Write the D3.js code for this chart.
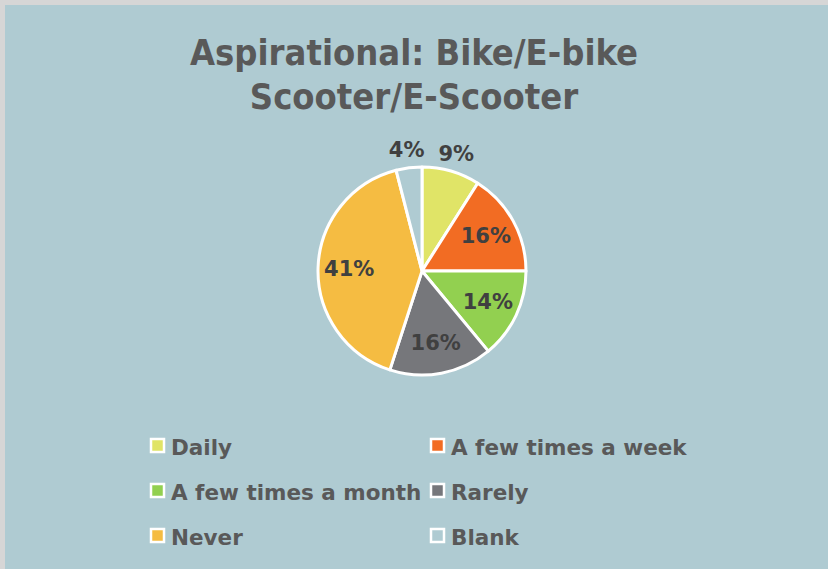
<!DOCTYPE html>
<html>
<head>
<meta charset="utf-8">
<script src="https://cdn.jsdelivr.net/npm/d3@7"></script>
<style>
  html, body { margin: 0; padding: 0; background: #d6d6d6; }
  svg { display: block; }
  text { font-family: "DejaVu Sans", "Liberation Sans", sans-serif; font-weight: bold; }
</style>
</head>
<body>
<div id="chart"></div>
<script>
// data
const categories = ["Daily", "A few times a week", "A few times a month", "Rarely", "Never", "Blank"];
const values = [9, 16, 14, 16, 41, 4];
const colors = ["#e0e467", "#f26c23", "#92d050", "#76777b", "#f5bc42", "#afcbd2"];
const titleLines = ["Aspirational: Bike/E-bike", "Scooter/E-Scooter"];

const width = 828, height = 569;

const svg = d3.select("#chart").append("svg")
  .attr("width", width)
  .attr("height", height);

// panel background (light grey edge at top / left)
svg.append("rect")
  .attr("x", 5).attr("y", 5)
  .attr("width", width - 5).attr("height", height - 5)
  .attr("fill", "#afcbd2");

// title
svg.append("g").selectAll("text")
  .data(titleLines)
  .join("text")
  .attr("x", 414)
  .attr("y", (d, i) => 65 + i * 44)
  .attr("text-anchor", "middle")
  .attr("fill", "#595959")
  .style("font-family", "'DejaVu Sans Condensed', 'Liberation Sans Narrow', sans-serif")
  .style("font-size", "36px")
  .text(d => d);

// pie
const cx = 422, cy = 271, radius = 104;
const pie = d3.pie().sort(null).value(d => d.value);
const arc = d3.arc().innerRadius(0).outerRadius(radius);
const data = categories.map((c, i) => ({ name: c, value: values[i], color: colors[i] }));
const arcs = pie(data);

const g = svg.append("g").attr("transform", `translate(${cx},${cy})`);

g.selectAll("path")
  .data(arcs)
  .join("path")
  .attr("d", arc)
  .attr("fill", d => d.data.color)
  .attr("stroke", "#ffffff")
  .attr("stroke-width", 3)
  .attr("stroke-linejoin", "round");

// labels: small slices outside, others inside
const inner = d3.arc().innerRadius(radius * 0.7).outerRadius(radius * 0.7);
const outer = d3.arc().innerRadius(radius * 1.18).outerRadius(radius * 1.18);

g.selectAll("text.lbl")
  .data(arcs)
  .join("text")
  .attr("class", "lbl")
  .attr("transform", d => {
    const small = d.data.value < 10;
    const p = small ? outer.centroid(d) : inner.centroid(d);
    return `translate(${p[0]},${p[1]})`;
  })
  .attr("text-anchor", "middle")
  .attr("dy", "0.35em")
  .attr("fill", "#404040")
  .style("font-size", "21px")
  .text(d => d.data.value + "%");

// legend
const legend = svg.append("g");
const colX = [150, 430], rowY = [447, 492, 537];

const items = legend.selectAll("g")
  .data(data)
  .join("g")
  .attr("transform", (d, i) => `translate(${colX[i % 2]},${rowY[Math.floor(i / 2)]})`);

items.append("rect")
  .attr("x", 1).attr("y", -8)
  .attr("width", 13).attr("height", 13)
  .attr("fill", d => d.color)
  .attr("stroke", "#ffffff")
  .attr("stroke-width", 2.5);

items.append("text")
  .attr("x", 21)
  .attr("y", 0)
  .attr("dy", "0.35em")
  .attr("fill", "#595959")
  .style("font-size", "21.5px")
  .text(d => d.name);
</script>
</body>
</html>
